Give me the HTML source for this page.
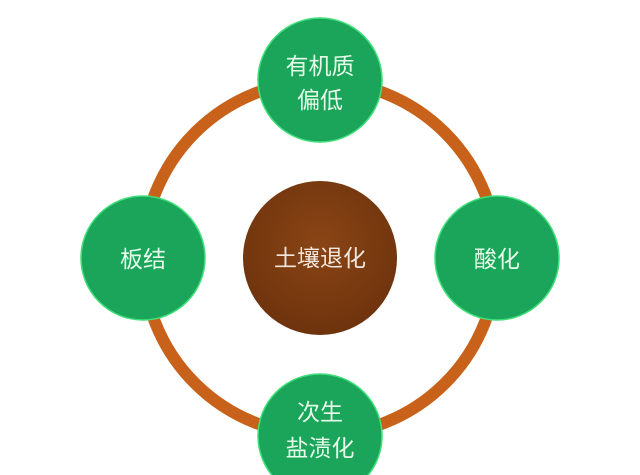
<!DOCTYPE html>
<html><head><meta charset="utf-8"><style>
html,body{margin:0;padding:0;background:#fff;}
body{width:640px;height:475px;overflow:hidden;position:relative;}
svg{position:absolute;left:0;top:0;}
text{font-family:"Liberation Sans","Noto Sans CJK SC",sans-serif;fill:#e6fbe9;font-size:23px;text-anchor:middle;}
</style></head><body>
<svg width="640" height="475" viewBox="0 0 640 475">
<defs>
<radialGradient id="g" cx="50%" cy="40%" r="60%">
<stop offset="0" stop-color="#8a4515"/><stop offset="1" stop-color="#6e330d"/>
</radialGradient>
</defs>
<circle cx="320" cy="258" r="177" fill="none" stroke="#c8621a" stroke-width="12"/>
<circle cx="320" cy="258" r="77" fill="url(#g)"/>
<text x="320" y="266" style="fill:#f2e6dc">土壤退化</text>
<g fill="#1ba55a" stroke="#3fe07a" stroke-width="1.5">
<circle cx="320" cy="80" r="62"/>
<circle cx="143" cy="258" r="62"/>
<circle cx="497" cy="258" r="62"/>
<circle cx="320" cy="436" r="62"/>
</g>
<text x="320" y="74">有机质</text>
<text x="320" y="108">偏低</text>
<text x="143" y="267">板结</text>
<text x="497" y="267">酸化</text>
<text x="320" y="420">次生</text>
<text x="320" y="456">盐渍化</text>
</svg>
</body></html>
